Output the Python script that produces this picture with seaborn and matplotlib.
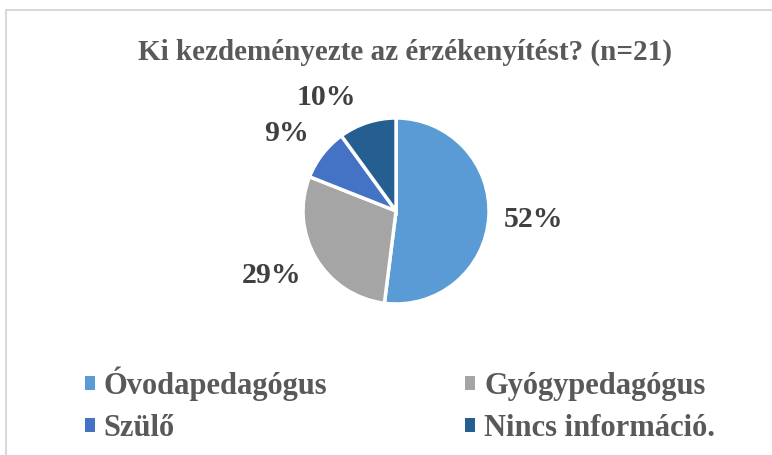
import matplotlib
matplotlib.use("Agg")
import numpy as np
import matplotlib.pyplot as plt
import seaborn as sns

# Data
categories = ["Óvodapedagógus", "Gyógypedagógus", "Szülő", "Nincs információ."]
shares = [52, 29, 9, 10]
colors = ["#5B9BD5", "#A5A5A5", "#4472C4", "#255E91"]
title = "Ki kezdeményezte az érzékenyítést? (n=21)"

sns.set_theme(style="white")
plt.rcParams["font.family"] = ["Liberation Serif", "DejaVu Serif"]

fig = plt.figure(figsize=(7.72, 4.55), dpi=100)
ax = fig.add_axes([0.3624, 0.2808, 0.3012, 0.511])

wedges, texts, autotexts = ax.pie(
    shares, colors=colors, startangle=90, counterclock=False,
    autopct="%.0f%%", pctdistance=1.45,
    wedgeprops=dict(edgecolor="white", linewidth=2.5),
    textprops=dict(fontsize=21.5, fontweight="bold", color="#404040"),
)
ax.set_aspect("equal")

# nudge the percentage labels like the "best fit" placement of the original
label_dist = [1.48, 1.51, 1.44, 1.43]
angle_shift = [0, -3.4, 2.7, 13.6]
for w, t, d, s in zip(wedges, autotexts, label_dist, angle_shift):
    ang = np.deg2rad((w.theta1 + w.theta2) / 2 + s)
    t.set_position((d * np.cos(ang), d * np.sin(ang)))

fig.text(0.525, 0.885, title, ha="center", va="center", fontsize=21,
         fontweight="bold", color="#595959")

# legend is filled row by row in the reference
order = [0, 2, 1, 3]
leg = fig.legend([wedges[i] for i in order], [categories[i] for i in order],
                 loc="center", bbox_to_anchor=(0.518, 0.11),
                 ncol=2, frameon=False, handlelength=0.33, handleheight=0.33,
                 handletextpad=0.3, columnspacing=4.5, labelspacing=0.42,
                 prop=dict(family="Liberation Serif", size=22, weight="bold"))
for t in leg.get_texts():
    t.set_color("#595959")
for h in leg.legend_handles:
    h.set_linewidth(0)

# frame lines at top and left
fig.add_artist(plt.Line2D([6 / 772, 1], [1 - 10 / 455] * 2, color="#d9d9d9", lw=1.5))
fig.add_artist(plt.Line2D([6 / 772] * 2, [0, 1 - 10 / 455], color="#d9d9d9", lw=1.5))

fig.savefig("out.png", dpi=100)
